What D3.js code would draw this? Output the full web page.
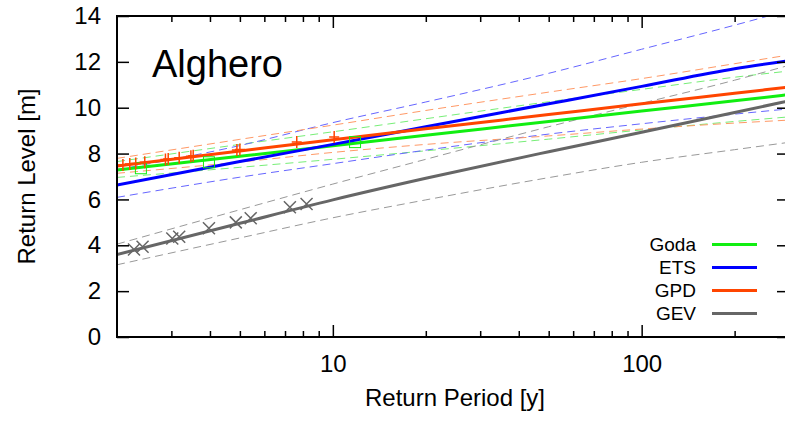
<!DOCTYPE html>
<html>
<head>
<meta charset="UTF-8">
<title>Alghero return levels</title>
<script src="https://cdn.jsdelivr.net/npm/d3@7"></script>
<style>
    body { margin: 0; background: #fff; }
    svg { display: block; font-family: "Liberation Sans", Arial, sans-serif; }
    .tick text { font-size: 24px; fill: #000; }
</style>
</head>
<body>
<svg id="chart" width="785" height="423"></svg>
<script>
    // return periods the curves are sampled at
    var periods = [2, 5, 10, 20, 50, 100, 200, 300];

    var godaMid = [7.28, 7.88, 8.34, 8.80, 9.40, 9.86, 10.30, 10.57];
    var godaLo  = [6.96, 7.40, 7.75, 8.12, 8.63, 9.03, 9.40, 9.60];
    var godaHi  = [7.65, 8.40, 8.95, 9.52, 10.26, 10.80, 11.33, 11.60];

    var etsMid = [6.63, 7.65, 8.40, 9.17, 10.17, 10.93, 11.70, 12.05];
    var etsLo  = [6.09, 6.97, 7.56, 8.15, 8.85, 9.30, 9.72, 9.95];
    var etsHi  = [7.30, 8.35, 9.35, 10.25, 11.50, 12.55, 13.60, 14.25];

    var gpdMid = [7.46, 8.11, 8.60, 9.08, 9.70, 10.17, 10.63, 10.90];
    var gpdLo  = [7.14, 7.63, 8.05, 8.40, 8.77, 9.07, 9.33, 9.46];
    var gpdHi  = [7.79, 8.62, 9.24, 9.88, 10.68, 11.27, 11.92, 12.30];

    var gevMid = [3.60, 4.96, 5.98, 6.92, 8.08, 8.93, 9.79, 10.30];
    var gevLo  = [3.15, 4.32, 5.20, 5.98, 6.95, 7.62, 8.17, 8.49];
    var gevHi  = [4.05, 5.55, 6.67, 7.75, 9.17, 10.19, 11.20, 11.85];

    // empirical points
    var godaPtsT = [2.39, 3.97, 11.8];
    var godaPtsV = [7.36, 7.62, 8.50];
    var gpdPtsT = [2.09, 2.20, 2.30, 2.46, 2.87, 2.93, 3.18, 3.47, 3.53, 4.89, 5.00, 7.64, 10.1];
    var gpdPtsV = [7.50, 7.54, 7.57, 7.62, 7.74, 7.76, 7.82, 7.88, 7.90, 8.16, 8.18, 8.50, 8.72];
    var gevPtsT = [2.27, 2.42, 3.02, 3.18, 3.97, 4.85, 5.42, 7.26, 8.22];
    var gevPtsV = [3.82, 3.94, 4.30, 4.37, 4.74, 5.00, 5.18, 5.66, 5.80];

    var legendNames = ['Goda', 'ETS', 'GPD', 'GEV'];
    var xMajor = [10, 100];
    var xMinor = [3, 4, 5, 6, 7, 8, 9, 20, 30, 40, 50, 60, 70, 80, 90, 200];
    var yTicks = [0, 2, 4, 6, 8, 10, 12, 14];

    var colors = {Goda: '#11ee11', ETS: '#0000ff', GPD: '#ff4500', GEV: '#666666'};
    var dashColors = {Goda: '#77ee77', ETS: '#6666ff', GPD: '#ff9966', GEV: '#999999'};

    var plotL = 117, plotR = 789, plotT = 16, plotB = 337;

    var x = d3.scaleLog().domain([2, 300]).range([plotL, plotR]);
    var y = d3.scaleLinear().domain([0, 14]).range([plotB, plotT]);

    var svg = d3.select('#chart');

    svg.append('defs').append('clipPath').attr('id', 'plotClip')
        .append('rect')
        .attr('x', plotL).attr('y', plotT)
        .attr('width', plotR - plotL).attr('height', plotB - plotT);

    var plot = svg.append('g').attr('clip-path', 'url(#plotClip)');

    var line = d3.line()
        .x(function (d) { return x(d[0]); })
        .y(function (d) { return y(d[1]); })
        .curve(d3.curveMonotoneX);

    function pairs(vals) {
        return periods.map(function (t, i) { return [t, vals[i]]; });
    }

    var series = [
        {name: 'Goda', mid: godaMid, lo: godaLo, hi: godaHi},
        {name: 'ETS', mid: etsMid, lo: etsLo, hi: etsHi},
        {name: 'GPD', mid: gpdMid, lo: gpdLo, hi: gpdHi},
        {name: 'GEV', mid: gevMid, lo: gevLo, hi: gevHi}
    ];

    // confidence bands (dashed)
    series.forEach(function (s) {
        [s.lo, s.hi].forEach(function (vals) {
            plot.append('path')
                .attr('d', line(pairs(vals)))
                .attr('fill', 'none')
                .attr('stroke', dashColors[s.name])
                .attr('stroke-width', 1)
                .attr('stroke-dasharray', '8,5');
        });
    });

    // fitted curves
    series.forEach(function (s) {
        plot.append('path')
            .attr('d', line(pairs(s.mid)))
            .attr('fill', 'none')
            .attr('stroke', colors[s.name])
            .attr('stroke-width', 3);
    });

    // markers
    godaPtsT.forEach(function (t, i) {
        plot.append('rect')
            .attr('x', x(t) - 5.5).attr('y', y(godaPtsV[i]) - 5.5)
            .attr('width', 11).attr('height', 11)
            .attr('fill', 'none')
            .attr('stroke', colors.Goda)
            .attr('stroke-width', 1);
    });

    gpdPtsT.forEach(function (t, i) {
        var cx = x(t), cy = y(gpdPtsV[i]);
        plot.append('path')
            .attr('d', 'M' + (cx - 5) + ',' + cy + 'H' + (cx + 5) + 'M' + cx + ',' + (cy - 6) + 'V' + (cy + 6))
            .attr('stroke', colors.GPD)
            .attr('stroke-width', 1.5);
    });

    gevPtsT.forEach(function (t, i) {
        var cx = x(t), cy = y(gevPtsV[i]);
        plot.append('path')
            .attr('d', 'M' + (cx - 6) + ',' + (cy - 6) + 'L' + (cx + 6) + ',' + (cy + 6) +
                'M' + (cx - 6) + ',' + (cy + 6) + 'L' + (cx + 6) + ',' + (cy - 6))
            .attr('stroke', colors.GEV)
            .attr('stroke-width', 1.5);
    });

    // axes, ticks pointing inward
    function styleAxis(g) {
        g.select('.domain').remove();
        g.selectAll('.tick line').attr('stroke', '#000').attr('stroke-width', 1.5);
    }

    svg.append('g').attr('transform', 'translate(0,' + plotB + ')')
        .call(d3.axisBottom(x).tickValues(xMajor).tickSize(-12).tickPadding(18).tickFormat(d3.format('d')))
        .call(styleAxis);
    svg.append('g').attr('transform', 'translate(0,' + plotB + ')')
        .call(d3.axisBottom(x).tickValues(xMinor).tickSize(-6).tickFormat(''))
        .call(styleAxis);
    svg.append('g').attr('transform', 'translate(0,' + plotT + ')')
        .call(d3.axisTop(x).tickValues(xMajor).tickSize(-12).tickFormat(''))
        .call(styleAxis);
    svg.append('g').attr('transform', 'translate(0,' + plotT + ')')
        .call(d3.axisTop(x).tickValues(xMinor).tickSize(-6).tickFormat(''))
        .call(styleAxis);
    svg.append('g').attr('transform', 'translate(' + plotL + ',0)')
        .call(d3.axisLeft(y).tickValues(yTicks).tickSize(-12).tickPadding(16))
        .call(styleAxis);
    svg.append('g').attr('transform', 'translate(' + plotR + ',0)')
        .call(d3.axisRight(y).tickValues(yTicks).tickSize(-12).tickFormat(''))
        .call(styleAxis);

    svg.append('rect')
        .attr('x', plotL).attr('y', plotT)
        .attr('width', plotR - plotL).attr('height', plotB - plotT)
        .attr('fill', 'none')
        .attr('stroke', '#000')
        .attr('stroke-width', 2);

    // titles
    svg.append('text')
        .attr('x', 152).attr('y', 77)
        .attr('font-size', 38)
        .text('Alghero');

    svg.append('text')
        .attr('x', (plotL + 785) / 2 + 4).attr('y', 406)
        .attr('text-anchor', 'middle')
        .attr('font-size', 24)
        .text('Return Period [y]');

    svg.append('text')
        .attr('transform', 'translate(35,' + ((plotT + plotB) / 2) + ') rotate(-90)')
        .attr('text-anchor', 'middle')
        .attr('font-size', 24)
        .text('Return Level [m]');

    // legend
    var legend = svg.append('g');
    legendNames.forEach(function (name, i) {
        var ly = 244.5 + i * 23;
        legend.append('text')
            .attr('x', 696).attr('y', ly)
            .attr('dy', '0.35em')
            .attr('text-anchor', 'end')
            .attr('font-size', 19)
            .text(name);
        legend.append('line')
            .attr('x1', 712).attr('x2', 757)
            .attr('y1', ly).attr('y2', ly)
            .attr('stroke', colors[name])
            .attr('stroke-width', 3);
    });
</script>
</body>
</html>
